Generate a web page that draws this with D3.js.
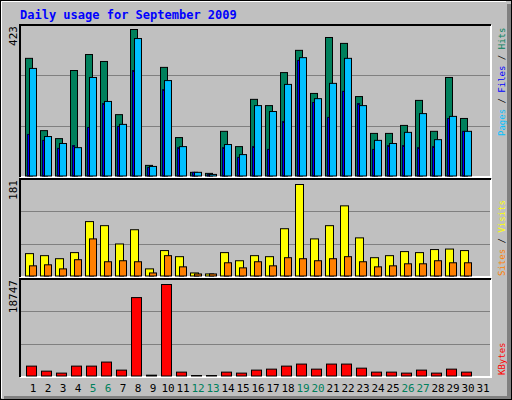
<!DOCTYPE html><html><head><meta charset="utf-8"><script src="https://d3js.org/d3.v7.min.js"></script>
<style>body{margin:0;background:#fff}text{font-family:"DejaVu Sans Mono",monospace}</style></head><body><script>
const days=d3.range(1,32);
const hits=[340,132,109,305,351,331,178,423,32,314,112,12,9,130,86,222,204,299,363,239,400,383,230,124,124,147,219,130,285,167,0];
const files=[311,115,95,83,285,216,150,397,29,276,86,12,6,92,63,204,187,265,342,224,268,340,204,104,95,127,181,106,173,130,0];
const pages=[121,104,81,89,141,210,144,305,26,250,83,12,6,83,55,86,78,158,334,213,170,245,210,78,89,89,83,86,167,130,0];
const sites=[45,41,35,47,108,100,64,92,15,51,39,7,5,47,31,41,39,94,181,74,100,139,76,37,41,49,47,53,54,51,0];
const visits=[21,23,15,33,74,29,31,29,7,41,19,5,5,27,17,29,21,37,35,31,35,39,29,19,21,25,25,31,27,27,0];
const kbytes=[2115,1090,690,2115,2115,2940,1300,16080,270,18747,890,200,200,890,690,1300,1500,2115,2530,1500,2530,2530,1700,890,890,690,1300,690,1500,890,0];
const weekend=[5,6,12,13,19,20,26,27];
const maxTop=423,maxMid=181,maxBot=18747;

const svg=d3.select("body").append("svg").attr("width",512).attr("height",400);
svg.append("rect").attr("x",0).attr("y",0).attr("width",512).attr("height",400).attr("fill","#c0c0c0");
svg.append("rect").attr("x",507).attr("y",4).attr("width",5).attr("height",396).attr("fill","#808080");
svg.append("rect").attr("x",4).attr("y",396).attr("width",508).attr("height",4).attr("fill","#808080");
svg.append("rect").attr("x",0.5).attr("y",0.5).attr("width",511).attr("height",399).attr("fill","none").attr("stroke","#000");
svg.append("path").attr("d","M1.5,398V1.5H506").attr("stroke","#fff").attr("fill","none");
svg.append("text").attr("x",20).attr("y",19).attr("fill","#0000ff").attr("font-weight","bold").attr("font-size",12).text("Daily usage for September 2009");

const x=d3.scaleLinear().domain([1,31]).range([25,475]);
const panels=[{t:25,b:177,base:176,top:29,max:maxTop},{t:179,b:277,base:276,top:184,max:maxMid},{t:279,b:377,base:376,top:284,max:maxBot}];
panels.forEach(p=>{
  svg.append("path").attr("d",`M20,${p.b}H491V${p.t}`).attr("stroke","#fff").attr("stroke-width",2).attr("fill","none");
  svg.append("path").attr("d",`M20,${p.b}V${p.t}H491`).attr("stroke","#000").attr("stroke-width",2).attr("fill","none");
  p.y=d3.scaleLinear().domain([0,p.max]).range([p.base,p.top]);
  const h=p.base-p.t;
  [1,2].forEach(k=>svg.append("line").attr("x1",21).attr("x2",490).attr("y1",Math.round(p.base-h*k/3)+0.5).attr("y2",Math.round(p.base-h*k/3)+0.5).attr("stroke","#808080"));
});
function bars(data,p,dx,w,fill,stroke){
  svg.append("g").selectAll("rect").data(days.filter((d,i)=>data[i]>0)).join("rect")
   .attr("x",d=>x(d)+dx+0.5).attr("width",w).attr("y",d=>p.y(data[d-1])+0.5)
   .attr("height",d=>Math.max(0,p.base-p.y(data[d-1])-0.5)).attr("fill",fill).attr("stroke",stroke||"#000");
}
const [P1,P2,P3]=panels;
bars(hits,P1,0,7,"#00805c");
bars(pages,P1,2,2,"#0000ff","#000040");
bars(files,P1,4,7,"#00c0ff");
bars(sites,P2,0,8,"#ffff00");
bars(visits,P2,4,7,"#ff8000");
bars(kbytes,P3,1,10,"#ff0000");

svg.append("g").selectAll("text").data(days).join("text").attr("x",d=>x(d)+8).attr("y",392).attr("text-anchor","middle").attr("font-size",11)
  .attr("fill",d=>weekend.includes(d)?"#00805c":"#000").text(d=>d);
function vlab(txt,xx,yy){svg.append("text").attr("transform",`translate(${xx},${yy}) rotate(-90)`).attr("text-anchor","end").attr("font-size",11).text(txt);}
vlab(maxTop,17,26);vlab(maxMid,17,180);vlab(maxBot,17,280);
function rlab(parts,yy){const t=svg.append("text").attr("transform",`translate(505,${yy}) rotate(-90)`).attr("font-size",9);
  parts.forEach(([s,c])=>t.append("tspan").attr("fill",c).text(s));}
rlab([["Pages","#00c0ff"],[" / ","#000"],["Files","#0000ff"],[" / ","#000"],["Hits","#00805c"]],136);
rlab([["Sites","#ff8000"],[" / ","#000"],["Visits","#ffff00"]],276);
rlab([["KBytes","#ff0000"]],375);
</script></body></html>
